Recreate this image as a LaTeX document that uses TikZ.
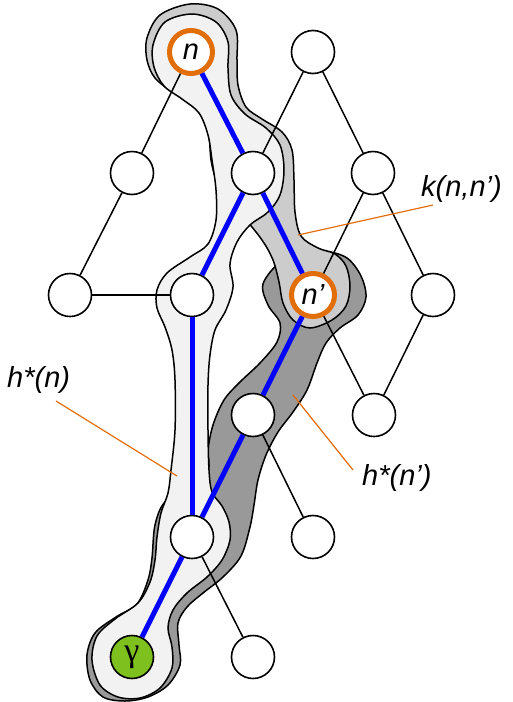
\documentclass[tikz,border=0pt]{standalone}
\usepackage{fontspec}
\setmainfont{Liberation Sans}
\newfontfamily\gfont{Liberation Serif}
\definecolor{lightblob}{RGB}{242,242,242}
\definecolor{kblob}{RGB}{204,204,204}
\definecolor{darkblob}{RGB}{153,153,153}
\definecolor{orng}{RGB}{226,110,10}
\definecolor{grn}{RGB}{126,192,30}
\begin{document}
\begin{tikzpicture}[x=1pt,y=-1pt,
  blob/.style={draw=black,line width=1.5pt},
  vtx/.style={circle,draw=black,line width=1.6pt,fill=white,minimum size=43pt,inner sep=0pt,
    font=\fontsize{29}{30}\selectfont\itshape},
  ring/.style={vtx,draw=orng,line width=5pt},
  goal/.style={vtx,fill=grn,font=\gfont\fontsize{34}{34}\selectfont},
  edge/.style={draw=black,line width=1.5pt},
  path/.style={draw=blue,line width=5pt},
  lead/.style={draw=orng,line width=1.2pt},
  lab/.style={anchor=base west,inner sep=0pt,font=\fontsize{29}{30}\selectfont\itshape}
]
\useasboundingbox (0,0) rectangle (512,702);
% dark blob h*(n')
\draw[blob,fill=darkblob] plot[smooth cycle,tension=0.55] coordinates {
 (280,262) (303,252) (325,251) (347,258) (361,276) (366,297) (358,315) (340,328)
 (326,343) (317,363) (307,390) (293,412) (278,432) (266,455) (258,480) (254,505)
 (250,527) (241,556) (223,577) (203,593) (187,607) (178,623) (179,645) (180,665)
 (168,685) (148,697) (125,701) (103,697) (90,680) (87,655) (95,633) (116,617)
 (137,604) (148,580) (152,558) (155,525) (165,502) (190,488) (208,470) (208,450)
 (213,425) (224,400) (240,382) (260,363) (277,342) (280,323) (268,305) (263,284)};
% k blob
\draw[blob,fill=kblob] plot[smooth cycle,tension=0.55] coordinates {
 (190,4) (218,9) (236,30) (237,60) (238,85) (246,107) (262,119) (282,132)
 (292,150) (294,180) (295,212) (301,236) (318,248) (335,254) (346,266) (350,286)
 (346,306) (332,320) (310,328) (293,320) (283,303) (279,282) (273,260) (262,240)
 (242,215) (228,200) (217,182) (211,160) (209,133) (204,113) (192,101) (173,92)
 (155,78) (147,60) (147,38) (160,15)};
% light blob h*(n)
\draw[blob,fill=lightblob] plot[smooth cycle,tension=0.55] coordinates {
 (192,14) (216,22) (228,42) (228,68) (231,95) (245,114) (266,128) (280,145)
 (284,170) (280,195) (268,212) (250,225) (237,242) (230,264) (233,287) (226,310)
 (215,330) (210,355) (208,385) (208,430) (209,470) (212,492) (222,506) (229,522)
 (230,540) (222,560) (207,577) (187,593) (173,610) (168,628) (172,647) (172,668)
 (160,688) (140,698) (118,697) (100,685) (92,660) (97,636) (115,619) (138,603)
 (150,582) (155,560) (157,537) (161,513) (168,493) (171,470) (175,430) (175,380)
 (172,350) (165,327) (157,308) (157,290) (167,273) (190,257) (208,244) (216,220)
 (216,190) (212,160) (208,135) (199,113) (182,99) (164,86) (154,67) (153,45) (165,22)};
% nodes
\node[ring] (n) at (191,52) {n};
\node[vtx] (a) at (313,52) {};
\node[vtx] (b1) at (132,173) {};
\node[vtx] (b2) at (253,173) {};
\node[vtx] (b3) at (373,173) {};
\node[vtx] (c1) at (70,295) {};
\node[vtx] (c2) at (192,295) {};
\node[ring] (np) at (313,295) {n'};
\node[vtx] (c4) at (433,295) {};
\node[vtx] (d1) at (253,415) {};
\node[vtx] (d2) at (374,415) {};
\node[vtx] (e1) at (192,537) {};
\node[vtx] (e2) at (313,537) {};
\node[goal] (g) at (132,657) {γ};
\node[vtx] (f2) at (253,657) {};
% edges
\draw[edge] (n) -- (b1);
\draw[edge] (a) -- (b2);
\draw[edge] (a) -- (b3);
\draw[edge] (b1) -- (c1);
\draw[edge] (c1) -- (c2);
\draw[edge] (b3) -- (np);
\draw[edge] (b3) -- (c4);
\draw[edge] (np) -- (d2);
\draw[edge] (c4) -- (d2);
\draw[edge] (d1) -- (e2);
\draw[edge] (e1) -- (f2);
\draw[path] (n) -- (b2);
\draw[path] (b2) -- (c2);
\draw[path] (b2) -- (np);
\draw[path] (np) -- (d1);
\draw[path] (c2) -- (e1);
\draw[path] (d1) -- (e1);
\draw[path] (e1) -- (g);
% labels
\node[lab] (lk) at (421,196) {k(n,n’)};
\node[lab] (lh) at (7,387) {h*(n)};
\node[lab] (lhp) at (362,485) {h*(n’)};
\coordinate (k1) at (433,205);
\coordinate (k2) at (298,235);
\coordinate (h1) at (56,401);
\coordinate (h2) at (177,476);
\coordinate (hp1) at (353,470);
\coordinate (hp2) at (293,395);
\draw[lead] (k1) -- (k2);
\draw[lead] (h1) -- (h2);
\draw[lead] (hp1) -- (hp2);
\end{tikzpicture}
\end{document}
